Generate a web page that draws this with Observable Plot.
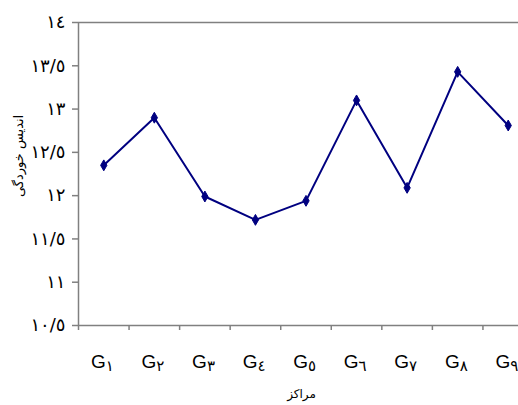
<!DOCTYPE html>
<html>
<head>
<meta charset="utf-8">
<script src="https://cdn.jsdelivr.net/npm/d3@7"></script>
<script src="https://cdn.jsdelivr.net/npm/@observablehq/plot@0.6"></script>
<style>
  html, body { margin: 0; padding: 0; background: #fff; overflow: hidden; }
</style>
</head>
<body>
<div id="chart"></div>
<script>
// Data
const centers = ["G1", "G2", "G3", "G4", "G5", "G6", "G7", "G8", "G9"];
const centerSubs = ["١", "٢", "٣", "٤", "٥", "٦", "٧", "٨", "٩"];
const values = [12.35, 12.90, 11.99, 11.72, 11.94, 13.10, 12.09, 13.43, 12.81];
const yTicks = [10.5, 11, 11.5, 12, 12.5, 13, 13.5, 14];
const yTickLabels = ["١٠/٥", "١١", "١١/٥", "١٢", "١٢/٥", "١٣", "١٣/٥", "١٤"];
const xTitle = "مراکز";
const yTitle = "اندیس خوردگی";

const rows = centers.map((c, i) => ({idx: i + 1, name: c, sub: centerSubs[i], value: values[i]}));
const bounds = d3.range(0, centers.length + 1).map(i => i + 0.5);
const yMin = yTicks[0], yMax = yTicks[yTicks.length - 1];

const gray = "#808080";
const navy = "#000080";
const arabicFont = "DejaVu Sans, sans-serif";

const chart = Plot.plot({
  width: 518,
  height: 405,
  marginLeft: 78,
  marginRight: 0,
  marginTop: 22,
  marginBottom: 80,
  style: {background: "#fff", overflow: "hidden"},
  x: {domain: [0.5, centers.length + 0.5], range: [78, 533], label: null},
  y: {domain: [yMin, yMax], label: null},
  marks: [
    Plot.ruleY([yMax], {stroke: gray, strokeWidth: 1.5}),
    Plot.ruleY([yMin], {stroke: gray, strokeWidth: 1.5}),
    Plot.ruleX([0.5], {y1: yMin, y2: yMax, stroke: gray, strokeWidth: 1.5}),
    Plot.axisY(yTicks, {
      tickSize: 6, tickPadding: 7, stroke: gray, strokeWidth: 1.5,
      tickFormat: d => yTickLabels[yTicks.indexOf(d)],
      fontSize: 18, fontFamily: arabicFont, fill: "#000", label: null
    }),
    Plot.axisX(bounds, {
      tickSize: 5, stroke: gray, strokeWidth: 1.5,
      tickFormat: () => "", label: null
    }),
    Plot.text(rows, {x: "idx", y: () => yMin, text: () => "G", textAnchor: "end", dx: 2, dy: 36,
      fontSize: 19, fontFamily: "Liberation Sans, Arial, sans-serif", fill: "#000"}),
    Plot.text(rows, {x: "idx", y: () => yMin, text: "sub", textAnchor: "start", dx: 2, dy: 41,
      fontSize: 15, fontFamily: arabicFont, fill: "#000"}),
    Plot.line(rows, {x: "idx", y: "value", stroke: navy, strokeWidth: 2}),
    Plot.dot(rows, {x: "idx", y: "value", symbol: "diamond", r: 3.3, fill: navy, stroke: navy, strokeWidth: 1}),
    Plot.text([xTitle], {frameAnchor: "bottom", dx: 3, dy: 72, fontSize: 12, fontFamily: arabicFont, fill: "#000"}),
    Plot.text([yTitle], {frameAnchor: "left", dx: -60, dy: 23, rotate: -90, fontSize: 13, fontFamily: arabicFont, fill: "#000", style: "word-spacing: 6px"})
  ]
});
document.getElementById("chart").appendChild(chart);
</script>
</body>
</html>
